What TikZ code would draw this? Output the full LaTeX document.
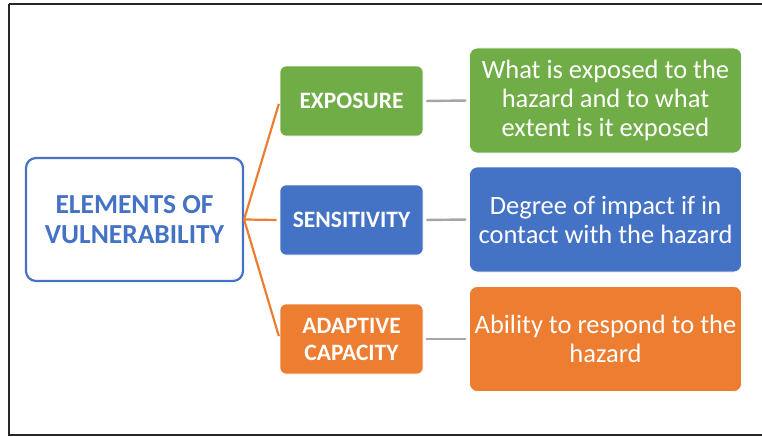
\documentclass[tikz,border=0pt]{standalone}
\usepackage{fontspec}
\setmainfont{Carlito}
\definecolor{cgreen}{HTML}{70AD47}
\definecolor{cblue}{HTML}{4472C4}
\definecolor{corange}{HTML}{ED7D31}
\definecolor{cgray}{HTML}{A5A5A5}
\begin{document}
\begin{tikzpicture}[x=1pt,y=-1pt,
  mainbox/.style={draw=cblue,line width=2.2pt,fill=white,rounded corners=10pt,
    minimum width=217pt,minimum height=123pt,align=center,text=cblue,
    font=\fontsize{27.5}{30}\selectfont\bfseries,inner sep=0pt},
  catbox/.style={fill=#1,draw=white,line width=0.6pt,rounded corners=6pt,
    minimum width=143pt,minimum height=70pt,align=center,text=white,
    font=\fontsize{23.5}{27}\selectfont\bfseries,inner sep=0pt},
  descbox/.style={fill=#1,draw=white,line width=0.6pt,rounded corners=8pt,
    minimum width=272pt,minimum height=105pt,align=center,text=white,
    font=\fontsize{26.5}{29}\selectfont,inner sep=0pt},
  oline/.style={draw=corange,line width=2.2pt,shorten >=3pt},
  gline/.style={draw=cgray,line width=2.4pt,shorten >=3pt,shorten <=3pt}]
\useasboundingbox (0,0) rectangle (762,436);
\draw[line width=2pt,black!85] (9,4) -- (770,4);
\draw[line width=2pt,black!85] (9,4) -- (9,435) -- (770,435);
\node[mainbox] (main) at (134.5,219.5) {ELEMENTS OF\\VULNERABILITY};
\node[catbox=cgreen] (exp) at (351.5,101) {EXPOSURE};
\node[catbox=cblue] (sen) at (351.5,220) {SENSITIVITY};
\node[catbox=corange] (ada) at (351.5,339) {ADAPTIVE\\CAPACITY};
\node[descbox=cgreen] (dexp) at (605.5,100.5) {What is exposed to the\\hazard and to what\\extent is it exposed};
\node[descbox=cblue] (dsen) at (605.5,219.5) {Degree of impact if in\\contact with the hazard};
\node[descbox=corange] (dada) at (605.5,339) {Ability to respond to the\\hazard};
\draw[oline] (main.east) -- (exp.west);
\draw[oline] (main.east) -- (sen.west);
\draw[oline] (main.east) -- (ada.west);
\draw[gline] (exp.east) -- (dexp.west);
\draw[gline] (sen.east) -- (dsen.west);
\draw[gline] (ada.east) -- (dada.west);
\end{tikzpicture}
\end{document}
